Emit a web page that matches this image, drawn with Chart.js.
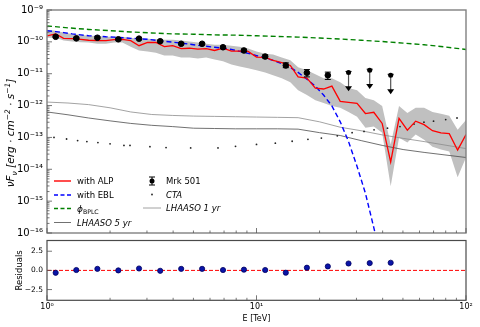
<!DOCTYPE html>
<html>
<head>
<meta charset="utf-8">
<script src="https://cdn.jsdelivr.net/npm/chart.js@4.4.1/dist/chart.umd.min.js"></script>
<style>
  html, body { margin: 0; padding: 0; background: #fff; }
  #wrap { position: relative; width: 480px; height: 327px; overflow: hidden; }
  canvas { position: absolute; left: 0; }
  #sedChart { top: 0; }
  #resChart { top: 230px; }
</style>
</head>
<body>
<div id="wrap">
  <canvas id="sedChart" width="480" height="243"></canvas>
  <canvas id="resChart" width="480" height="97"></canvas>
</div>
<script>
// energies in TeV, fluxes stored as log10(nuFnu / erg cm^-2 s^-1)
const modelE = [1, 1.1, 1.2, 1.32, 1.45, 1.58, 1.74, 1.91, 2.09, 2.29,
  2.51, 2.75, 3.02, 3.31, 3.63, 3.98, 4.37, 4.79, 5.25, 5.75,
  6.31, 6.92, 7.59, 8.32, 9.12, 10, 11, 12, 13.2, 14.5,
  15.8, 17.4, 19.1, 20.9, 22.9, 25.1, 27.5, 30.2, 33.1, 36.3,
  39.8, 43.7, 47.9, 52.5, 57.5, 63.1, 69.2, 75.9, 83.2, 91.2, 100];

const alpLog = [-9.81, -9.75, -9.89, -9.90, -9.92, -9.95, -9.96, -9.96, -9.93, -9.92,
  -9.96, -10.12, -10.02, -10.02, -10.15, -10.12, -10.21, -10.20, -10.23, -10.21,
  -10.27, -10.20, -10.29, -10.29, -10.30, -10.48, -10.49, -10.58, -10.65, -10.74,
  -11.10, -11.14, -11.45, -11.48, -11.39, -11.87, -11.90, -11.93, -12.25, -12.21,
  -12.56, -13.77, -12.40, -12.77, -12.49, -12.60, -12.79, -12.86, -12.88, -13.40, -12.91];

const bandHiLog = [-9.62, -9.65, -9.71, -9.75, -9.78, -9.81, -9.82, -9.84, -9.84, -9.84,
  -9.87, -9.90, -9.90, -9.92, -9.93, -9.93, -9.96, -9.99, -10.02, -10.06,
  -10.09, -10.09, -10.12, -10.15, -10.21, -10.30, -10.37, -10.40, -10.49, -10.58,
  -10.80, -10.89, -11.02, -11.14, -11.14, -11.27, -11.45, -11.52, -11.76, -11.83,
  -12.01, -13.22, -12.01, -12.23, -12.07, -12.07, -12.20, -12.26, -12.32, -12.76, -12.45];

const bandLoLog = [-9.87, -9.87, -9.96, -9.99, -10.01, -10.02, -10.06, -10.06, -10.02, -10.02,
  -10.15, -10.27, -10.30, -10.34, -10.43, -10.43, -10.49, -10.49, -10.52, -10.49,
  -10.55, -10.61, -10.71, -10.77, -10.83, -10.89, -10.96, -11.05, -11.14, -11.27,
  -11.52, -11.67, -11.83, -11.92, -12.01, -12.07, -12.20, -12.35, -12.70, -12.66,
  -12.85, -14.53, -13.01, -13.16, -12.91, -13.07, -13.29, -13.38, -13.44, -14.25, -13.63];

const eblLog = [-9.65, -9.68, -9.71, -9.75, -9.78, -9.81, -9.82, -9.84, -9.85, -9.87,
  -9.89, -9.90, -9.92, -9.95, -9.98, -10.01, -10.04, -10.07, -10.11, -10.14,
  -10.17, -10.20, -10.24, -10.30, -10.36, -10.43, -10.51, -10.58, -10.68, -10.80,
  -10.96, -11.17, -11.39, -11.67, -12.01, -12.51, -13.13, -13.91, -14.75, -15.83, -16.95];

const coarseE = [1, 1.26, 1.58, 2, 2.51, 3.16, 3.98, 5.01, 6.31, 7.94,
  10, 12.6, 15.8, 20, 25.1, 31.6, 39.8, 50.1, 63.1, 79.4, 100];

const bplcLog = [-9.50, -9.56, -9.61, -9.65, -9.69, -9.72, -9.75, -9.76, -9.78, -9.79,
  -9.81, -9.83, -9.85, -9.88, -9.91, -9.95, -9.99, -10.04, -10.09, -10.16, -10.24];

const lhaaso1Log = [-11.89, -11.92, -11.97, -12.07, -12.20, -12.28, -12.31, -12.33, -12.34, -12.35,
  -12.36, -12.37, -12.38, -12.51, -12.68, -12.79, -12.92, -13.03, -13.13, -13.24, -13.35];

const lhaaso5Log = [-12.20, -12.29, -12.39, -12.48, -12.56, -12.62, -12.66, -12.71, -12.72, -12.73,
  -12.73, -12.73, -12.74, -12.85, -12.94, -13.10, -13.25, -13.38, -13.47, -13.55, -13.63];

const ctaE = [1.08, 1.24, 1.4, 1.55, 1.75, 2.0, 2.33, 2.49, 3.1, 3.7,
  4.85, 6.55, 7.94, 10.0, 12.3, 14.8, 17.6, 20.4, 24.3, 28.6,
  32.6, 36.4, 42.2, 48.4, 56.5, 63.0, 70.0, 80.0, 90.6];
const ctaLog = [-13.00, -13.05, -13.10, -13.13, -13.16, -13.20, -13.25, -13.25, -13.29, -13.32,
  -13.33, -13.33, -13.28, -13.22, -13.18, -13.12, -13.06, -13.02, -12.95, -12.85,
  -12.81, -12.76, -12.71, -12.66, -12.58, -12.52, -12.49, -12.44, -12.39];

const mrkE = [1.1, 1.38, 1.74, 2.19, 2.75, 3.47, 4.37, 5.5, 6.92, 8.71, 11.0, 13.8, 17.4, 21.9];
const mrkLog = [-9.84, -9.89, -9.87, -9.92, -9.90, -9.98, -10.06, -10.06, -10.17, -10.27, -10.46, -10.74, -10.97, -11.05];
const mrkErrUp = [0.03, 0.03, 0.03, 0.03, 0.03, 0.03, 0.03, 0.03, 0.03, 0.04, 0.05, 0.08, 0.10, 0.10];
const mrkErrDown = [0.03, 0.03, 0.03, 0.03, 0.03, 0.03, 0.03, 0.03, 0.03, 0.04, 0.05, 0.07, 0.13, 0.13];

// upper limits
const ulE = [27.5, 34.7, 43.7];
const ulLog = [-10.96, -10.89, -11.05];

const resE = mrkE.concat(ulE);
const residuals = [-0.31, 0.05, 0.2, 0.0, 0.25, -0.05, 0.2, 0.2, 0.05, 0.1, 0.05, -0.3, 0.35, 0.52, 0.9, 0.95, 1.0];

const FONT = "'DejaVu Sans', 'Liberation Sans', sans-serif";
const UL_ARROW_DEX = 0.56;
const SUP = { '-': '\u207B', '0': '\u2070', '1': '\u00B9', '2': '\u00B2', '3': '\u00B3', '4': '\u2074',
  '5': '\u2075', '6': '\u2076', '7': '\u2077', '8': '\u2078', '9': '\u2079' };

function pts(xs, logs) {
  return logs.map((l, i) => ({ x: xs[i], y: Math.pow(10, l) }));
}
function pow10Label(v) {
  const e = Math.round(Math.log10(v));
  return '10' + String(e).split('').map(c => SUP[c]).join('');
}
function logTicks(lo, hi) {
  const major = [], minor = [];
  for (let e = lo; e <= hi; e++) {
    major.push(Number('1e' + e));
    if (e < hi) for (let m = 2; m <= 9; m++) minor.push(m * Number('1e' + e));
  }
  return { major, minor };
}
function fontStr(size, italic) { return (italic ? 'italic ' : '') + size + 'px ' + FONT; }
function line(ctx, x1, y1, x2, y2) { ctx.beginPath(); ctx.moveTo(x1, y1); ctx.lineTo(x2, y2); ctx.stroke(); }
function dot(ctx, x, y, r, c) { ctx.beginPath(); ctx.arc(x, y, r, 0, 2 * Math.PI); ctx.fillStyle = c; ctx.fill(); }

// parts: [text, size, dy, italic]; y is the baseline
function richText(ctx, parts, x, y, align, rotate) {
  ctx.save();
  ctx.translate(x, y);
  if (rotate) ctx.rotate(-Math.PI / 2);
  let w = 0;
  parts.forEach(p => { ctx.font = fontStr(p[1], p[3]); w += ctx.measureText(p[0]).width; });
  let cx = align === 'center' ? -w / 2 : 0;
  ctx.fillStyle = '#000';
  ctx.textBaseline = 'alphabetic';
  ctx.textAlign = 'left';
  parts.forEach(p => {
    ctx.font = fontStr(p[1], p[3]);
    ctx.fillText(p[0], cx, p[2]);
    cx += ctx.measureText(p[0]).width;
  });
  ctx.restore();
}

function drawTicks(ctx, a, xs, xt, ys, yt) {
  ctx.strokeStyle = '#555';
  ctx.lineWidth = 0.8;
  xt.major.forEach(v => { const p = xs.getPixelForValue(v); line(ctx, p, a.bottom, p, a.bottom - 5); });
  xt.minor.forEach(v => { const p = xs.getPixelForValue(v); line(ctx, p, a.bottom, p, a.bottom - 2.5); });
  yt.major.forEach(v => { const p = ys.getPixelForValue(v); line(ctx, a.left, p, a.left + 5, p); });
  yt.minor.forEach(v => { const p = ys.getPixelForValue(v); line(ctx, a.left, p, a.left + 2.5, p); });
}

const sedDecor = {
  id: 'sedDecor',
  afterDraw(chart) {
    const { ctx, chartArea: a } = chart;
    const x = chart.scales.x, y = chart.scales.y;
    ctx.save();

    // Mrk 501 error bars
    ctx.strokeStyle = '#000';
    ctx.lineWidth = 1;
    mrkE.forEach((e, i) => {
      const px = x.getPixelForValue(e);
      const yT = y.getPixelForValue(Math.pow(10, mrkLog[i] + mrkErrUp[i]));
      const yB = y.getPixelForValue(Math.pow(10, mrkLog[i] - mrkErrDown[i]));
      line(ctx, px, yT, px, yB);
      line(ctx, px - 3, yT, px + 3, yT);
      line(ctx, px - 3, yB, px + 3, yB);
    });

    // upper limits
    ulE.forEach((e, i) => {
      const px = x.getPixelForValue(e);
      const y0 = y.getPixelForValue(Math.pow(10, ulLog[i]));
      const y1 = y.getPixelForValue(Math.pow(10, ulLog[i] - UL_ARROW_DEX));
      ctx.strokeStyle = '#555'; ctx.lineWidth = 1.2;
      line(ctx, px, y0, px, y1 - 3);
      ctx.strokeStyle = '#000'; ctx.lineWidth = 1;
      line(ctx, px - 3, y0 - 1, px + 3, y0 - 1);
      dot(ctx, px, y0, 2.5, '#000');
      ctx.beginPath();
      ctx.moveTo(px - 3.5, y1 - 4); ctx.lineTo(px + 3.5, y1 - 4); ctx.lineTo(px, y1 + 1); ctx.closePath();
      ctx.fillStyle = '#000'; ctx.fill();
    });

    // frame + inward ticks
    ctx.strokeStyle = '#808080';
    ctx.lineWidth = 1.4;
    ctx.strokeRect(a.left, a.top, a.right - a.left, a.bottom - a.top);
    drawTicks(ctx, a, x, logTicks(0, 2), y, logTicks(-16, -9));

    // legend
    const c1 = 54, c1t = 77, c2 = 152, c2t = 166, fs = 8.5;
    const rows1 = [181, 195, 208.5, 222.5], rows2 = [181, 194.5, 208];
    ctx.lineWidth = 1.4;
    ctx.setLineDash([]); ctx.strokeStyle = '#ff0000'; line(ctx, c1, rows1[0], c1 + 17, rows1[0]);
    ctx.setLineDash([4, 2.5]); ctx.strokeStyle = '#0000ff'; line(ctx, c1, rows1[1], c1 + 17, rows1[1]);
    ctx.strokeStyle = '#008000'; line(ctx, c1, rows1[2], c1 + 17, rows1[2]);
    ctx.setLineDash([]); ctx.lineWidth = 0.8; ctx.strokeStyle = '#4d4d4d'; line(ctx, c1, rows1[3], c1 + 17, rows1[3]);
    ctx.strokeStyle = '#8c8c8c'; line(ctx, c2 - 9, rows2[2], c2 + 9, rows2[2]);
    ctx.strokeStyle = '#000'; ctx.lineWidth = 1;
    line(ctx, c2, rows2[0] - 4, c2, rows2[0] + 4);
    line(ctx, c2 - 3, rows2[0] - 4, c2 + 3, rows2[0] - 4);
    line(ctx, c2 - 3, rows2[0] + 4, c2 + 3, rows2[0] + 4);
    dot(ctx, c2, rows2[0], 2.5, '#000');
    dot(ctx, c2, rows2[1], 0.9, '#222');
    const b = 3;
    richText(ctx, [['with ALP', fs, 0, false]], c1t, rows1[0] + b, 'left');
    richText(ctx, [['with EBL', fs, 0, false]], c1t, rows1[1] + b, 'left');
    richText(ctx, [['\u03D5', fs + 0.5, 0, true], ['BPLC', 6.2, 2, false]], c1t, rows1[2] + b, 'left');
    richText(ctx, [['LHAASO 5 yr', fs, 0, true]], c1t, rows1[3] + b, 'left');
    richText(ctx, [['Mrk 501', fs, 0, false]], c2t, rows2[0] + b, 'left');
    richText(ctx, [['CTA', fs, 0, true]], c2t, rows2[1] + b, 'left');
    richText(ctx, [['LHAASO 1 yr', fs, 0, true]], c2t, rows2[2] + b, 'left');

    // y axis title
    richText(ctx, [['\u03BDF', 10.5, 0, true], ['\u03BD', 7.5, 3, true], [' [erg \u00B7 cm', 10.5, 0, true],
      ['\u22122', 7.5, -4, true], [' \u00B7 s', 10.5, 0, true], ['\u22121', 7.5, -4, true], [']', 10.5, 0, true]],
      14, 133, 'center', true);
    ctx.restore();
  }
};

const resDecor = {
  id: 'resDecor',
  afterDraw(chart) {
    const { ctx, chartArea: a } = chart;
    ctx.save();
    ctx.strokeStyle = '#4a4a4a';
    ctx.lineWidth = 1.2;
    ctx.strokeRect(a.left, a.top, a.right - a.left, a.bottom - a.top);
    drawTicks(ctx, a, chart.scales.x, logTicks(0, 2), chart.scales.y, { major: [-2.5, 0, 2.5], minor: [] });
    ctx.restore();
  }
};

new Chart(document.getElementById('sedChart'), {
  type: 'line',
  data: {
    datasets: [
      { label: 'band hi', data: pts(modelE, bandHiLog), borderWidth: 0, borderColor: 'transparent', pointRadius: 0, fill: false, order: 10 },
      { label: 'band lo', data: pts(modelE, bandLoLog), borderWidth: 0, borderColor: 'transparent', pointRadius: 0, fill: '-1', backgroundColor: '#c0c0c0', order: 10 },
      { label: 'LHAASO 5 yr', data: pts(coarseE, lhaaso5Log), borderColor: '#4d4d4d', borderWidth: 0.8, pointRadius: 0, order: 8 },
      { label: 'LHAASO 1 yr', data: pts(coarseE, lhaaso1Log), borderColor: '#8c8c8c', borderWidth: 0.8, pointRadius: 0, order: 8 },
      { label: 'CTA', data: pts(ctaE, ctaLog), showLine: false, pointRadius: 0.9, pointBorderWidth: 0, pointBackgroundColor: '#222', order: 7 },
      { label: 'φBPLC', data: pts(coarseE, bplcLog), borderColor: '#008000', borderDash: [5, 3], borderWidth: 1.4, pointRadius: 0, order: 6 },
      { label: 'with EBL', data: pts(modelE, eblLog), borderColor: '#0000ff', borderDash: [5, 3], borderWidth: 1.4, pointRadius: 0, order: 5 },
      { label: 'with ALP', data: pts(modelE, alpLog), borderColor: '#ff0000', borderWidth: 1.3, pointRadius: 0, order: 4 },
      { label: 'Mrk 501', data: pts(mrkE, mrkLog), showLine: false, pointRadius: 2.8, pointBackgroundColor: '#000', pointBorderColor: '#000', order: 1 }
    ]
  },
  options: {
    responsive: false,
    animation: false,
    events: [],
    layout: { padding: { top: 9, right: 14, bottom: 8.5, left: 0 } },
    plugins: { legend: { display: false }, tooltip: { enabled: false } },
    scales: {
      x: { type: 'logarithmic', min: 1, max: 100, display: false },
      y: {
        type: 'logarithmic', min: 1e-16, max: 1e-9,
        afterFit: s => { s.width = 47; },
        afterBuildTicks: s => { s.ticks = logTicks(-16, -9).major.map(v => ({ value: v })); },
        grid: { display: false, drawTicks: false },
        border: { display: false },
        ticks: { callback: v => pow10Label(v), color: '#000', padding: 4, font: { family: FONT, size: 10 } }
      }
    }
  },
  plugins: [sedDecor]
});

new Chart(document.getElementById('resChart'), {
  type: 'line',
  data: {
    datasets: [
      { label: 'zero', data: [{ x: 1, y: 0 }, { x: 100, y: 0 }], borderColor: '#ff0000', borderDash: [4, 2], borderWidth: 1, pointRadius: 0, order: 2 },
      { label: 'Residuals', data: resE.map((e, i) => ({ x: e, y: residuals[i] })), showLine: false,
        pointRadius: 2.6, pointBackgroundColor: '#0a14a8', pointBorderColor: '#000060', pointBorderWidth: 0.8, order: 1 }
    ]
  },
  options: {
    responsive: false,
    animation: false,
    events: [],
    layout: { padding: { top: 10.5, right: 14, bottom: 0, left: 0 } },
    plugins: { legend: { display: false }, tooltip: { enabled: false } },
    scales: {
      x: {
        type: 'logarithmic', min: 1, max: 100,
        afterFit: s => { s.height = 26.7; },
        afterBuildTicks: s => { s.ticks = logTicks(0, 2).major.map(v => ({ value: v })); },
        grid: { display: false, drawTicks: false },
        border: { display: false },
        ticks: { callback: v => pow10Label(v), color: '#000', padding: 2, maxRotation: 0, autoSkip: false, font: { family: FONT, size: 8 } },
        title: { display: true, text: 'E [TeV]', color: '#000', padding: { top: 0, bottom: 3.5 }, font: { family: FONT, size: 8 } }
      },
      y: {
        min: -3.9, max: 3.9,
        afterFit: s => { s.width = 47; },
        afterBuildTicks: s => { s.ticks = [-2.5, 0, 2.5].map(v => ({ value: v })); },
        grid: { display: false, drawTicks: false },
        border: { display: false },
        ticks: { callback: v => v.toFixed(1).replace('-', '\u2212'), color: '#000', padding: 4, font: { family: FONT, size: 7.5 } },
        title: { display: true, text: 'Residuals', color: '#000', padding: { top: 15, bottom: 0 }, font: { family: FONT, size: 8.5 } }
      }
    }
  },
  plugins: [resDecor]
});
</script>
</body>
</html>
